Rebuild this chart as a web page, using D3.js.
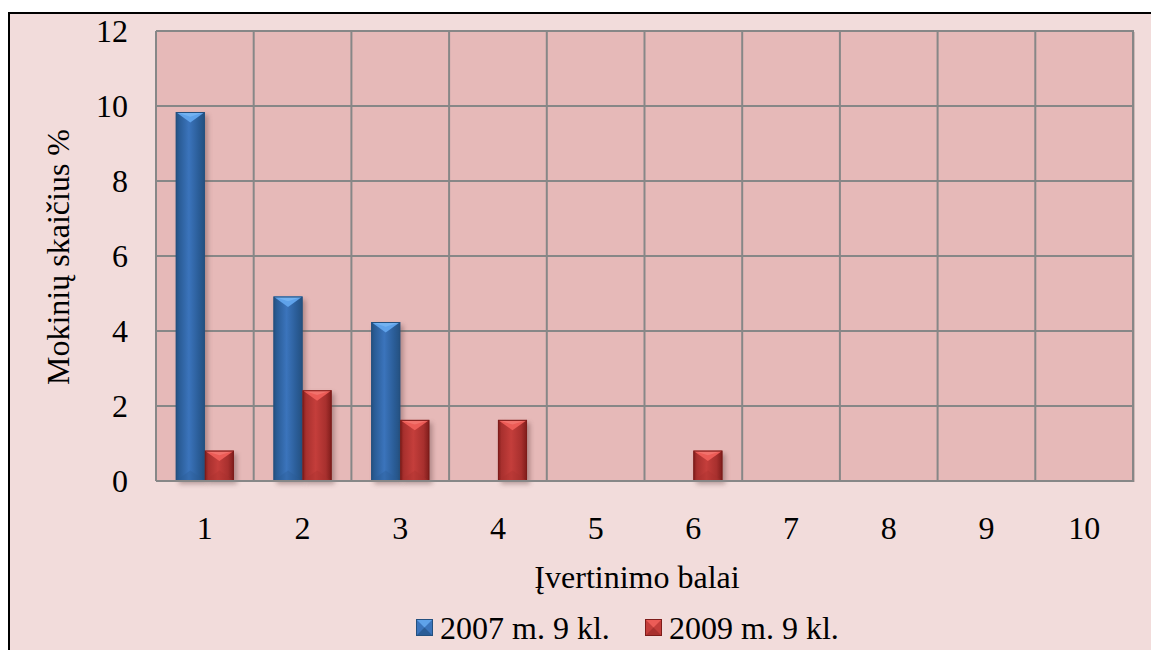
<!DOCTYPE html>
<html>
<head>
<meta charset="utf-8">
<script src="https://cdn.jsdelivr.net/npm/d3@7"></script>
<style>
  html, body { margin: 0; padding: 0; background: #fff; }
  svg { display: block; }
</style>
</head>
<body>
<svg id="chart" width="1151" height="650"></svg>
<script>
// Grades (x categories) and share of pupils, %
const categories = ["1", "2", "3", "4", "5", "6", "7", "8", "9", "10"];
const series2007 = [9.84, 4.92, 4.24, 0, 0, 0, 0, 0, 0, 0];
const series2009 = [0.81, 2.42, 1.63, 1.63, 0, 0.81, 0, 0, 0, 0];
const seriesNames = ["2007 m. 9 kl.", "2009 m. 9 kl."];
const yTicks = [0, 2, 4, 6, 8, 10, 12];
const yTitle = "Mokinių skaičius %";
const xTitle = "Įvertinimo balai";

const FONT = '"Liberation Serif"';
const FS = 32;

const svg = d3.select("#chart");
const W = 1151, H = 650;
const plot = { left: 156, top: 31, right: 1133, bottom: 481 };

const palettes = [
  { body: "#3B74BC", light: "#5FA2EA", lighter: "#80BDF5", edge: "#24507F", dark: "#2A5C96" },
  { body: "#C43E3B", light: "#EC5C57", lighter: "#F7807A", edge: "#7E1C1A", dark: "#A8302E" }
];

const defs = svg.append("defs");
palettes.forEach((p, i) => {
  const g = defs.append("linearGradient").attr("id", "body" + i)
    .attr("x1", 0).attr("x2", 1).attr("y1", 0).attr("y2", 0);
  g.append("stop").attr("offset", "0%").attr("stop-color", p.edge);
  g.append("stop").attr("offset", "12%").attr("stop-color", p.dark);
  g.append("stop").attr("offset", "45%").attr("stop-color", p.body);
  g.append("stop").attr("offset", "80%").attr("stop-color", p.dark);
  g.append("stop").attr("offset", "100%").attr("stop-color", p.edge);
});
const f = defs.append("filter").attr("id", "shadow")
  .attr("x", "-30%").attr("y", "-10%").attr("width", "160%").attr("height", "130%");
f.append("feGaussianBlur").attr("stdDeviation", 2.5);

// outer chart area
svg.append("rect").attr("x", 0).attr("y", 0).attr("width", W).attr("height", H).attr("fill", "#fff");
svg.append("rect").attr("x", 9).attr("y", 13).attr("width", W + 20).attr("height", H + 20)
  .attr("fill", "#F2DCDB").attr("stroke", "#000").attr("stroke-width", 2);

const x = d3.scaleBand().domain(categories).range([plot.left, plot.right]).paddingInner(0).paddingOuter(0);
const y = d3.scaleLinear().domain([0, 12]).range([plot.bottom, plot.top]);

// plot background with a soft shadow on the right
svg.append("rect").attr("x", plot.left + 2).attr("y", plot.top + 1)
  .attr("width", plot.right - plot.left).attr("height", plot.bottom - plot.top)
  .attr("fill", "#BFA8A8").attr("opacity", 0.7);
svg.append("rect").attr("x", plot.left).attr("y", plot.top)
  .attr("width", plot.right - plot.left).attr("height", plot.bottom - plot.top)
  .attr("fill", "#E6B9B8");

// gridlines
const grid = svg.append("g").attr("stroke", "#878787").attr("stroke-width", 2);
yTicks.forEach(t => {
  grid.append("line").attr("x1", plot.left).attr("x2", plot.right)
    .attr("y1", y(t)).attr("y2", y(t));
});
categories.forEach(c => {
  grid.append("line").attr("x1", x(c)).attr("x2", x(c))
    .attr("y1", plot.top).attr("y2", plot.bottom);
});
grid.append("line").attr("x1", plot.right).attr("x2", plot.right)
  .attr("y1", plot.top - 1).attr("y2", plot.bottom + 1);

// bars: two series per category, group occupies ~60% of the band
const groupW = x.bandwidth() * 0.595;
const x1 = d3.scaleBand().domain([0, 1]).range([0, groupW]);

function drawBar(g, bx, by, bw, bh, p, idx) {
  if (bh <= 0) return;
  // shadow
  g.append("rect").attr("x", bx + 3).attr("y", by + 3).attr("width", bw).attr("height", bh)
    .attr("fill", "#6b4a4a").attr("opacity", 0.45).attr("filter", "url(#shadow)");
  g.append("rect").attr("x", bx).attr("y", by).attr("width", bw).attr("height", bh)
    .attr("fill", `url(#body${idx})`);
  const bev = Math.min(bw * 0.36, bh / 2);
  // top bevel
  g.append("path").attr("d", `M${bx},${by} L${bx + bw},${by} L${bx + bw / 2},${by + bev} Z`)
    .attr("fill", p.light);
  g.append("path").attr("d", `M${bx + 1},${by + 0.5} L${bx + bw - 1},${by + 0.5} L${bx + bw / 2},${by + bev * 0.45} Z`)
    .attr("fill", p.lighter).attr("opacity", 0.6);
  // bottom bevel
  g.append("path").attr("d", `M${bx},${by + bh} L${bx + bw},${by + bh} L${bx + bw / 2},${by + bh - bev} Z`)
    .attr("fill", p.dark).attr("opacity", 0.35);
  g.append("rect").attr("x", bx + 0.5).attr("y", by + 0.5).attr("width", bw - 1).attr("height", bh - 1)
    .attr("fill", "none").attr("stroke", p.edge).attr("stroke-width", 1);
}

const barsG = svg.append("g");
[series2007, series2009].forEach((vals, si) => {
  vals.forEach((v, ci) => {
    const c = categories[ci];
    const gx = x(c) + (x.bandwidth() - groupW) / 2 + x1(si);
    drawBar(barsG, gx, y(v), x1.bandwidth(), y(0) - y(v), palettes[si], si);
  });
});

// redraw the baseline over bar shadows
svg.append("line").attr("x1", plot.left).attr("x2", plot.right)
  .attr("y1", y(0)).attr("y2", y(0)).attr("stroke", "#878787").attr("stroke-width", 2);

const txt = sel => sel.style("font-family", FONT)
  .attr("font-size", FS).attr("fill", "#000");

// y tick labels
svg.append("g").selectAll("text").data(yTicks).join("text")
  .attr("x", 128).attr("y", d => y(d)).attr("dy", "0.34em")
  .attr("text-anchor", "end").call(txt).text(d => d);

// x tick labels
svg.append("g").selectAll("text").data(categories).join("text")
  .attr("x", d => x(d) + x.bandwidth() / 2).attr("y", 539)
  .attr("text-anchor", "middle").call(txt).text(d => d);

// axis titles
svg.append("text").attr("x", 637).attr("y", 588).attr("text-anchor", "middle")
  .call(txt).text(xTitle);
svg.append("text").attr("transform", "translate(69,257) rotate(-90)")
  .attr("text-anchor", "middle").call(txt).text(yTitle);

// legend
const legendItems = [{ name: seriesNames[0], p: palettes[0], lx: 416 }, { name: seriesNames[1], p: palettes[1], lx: 645 }];
legendItems.forEach(it => {
  const s = 17, lx = it.lx, ly = 619;
  const lg = svg.append("g");
  lg.append("rect").attr("x", lx).attr("y", ly).attr("width", s).attr("height", s).attr("fill", it.p.body);
  lg.append("path").attr("d", `M${lx},${ly} L${lx + s},${ly} L${lx + s / 2},${ly + s / 2} Z`).attr("fill", it.p.light);
  lg.append("path").attr("d", `M${lx},${ly + s} L${lx + s},${ly + s} L${lx + s / 2},${ly + s / 2} Z`).attr("fill", it.p.dark);
  lg.append("rect").attr("x", lx + 0.5).attr("y", ly + 0.5).attr("width", s - 1).attr("height", s - 1)
    .attr("fill", "none").attr("stroke", it.p.edge).attr("stroke-width", 1);
  lg.append("text").attr("x", lx + s + 7).attr("y", 639).call(txt).text(it.name);
});
</script>
</body>
</html>
